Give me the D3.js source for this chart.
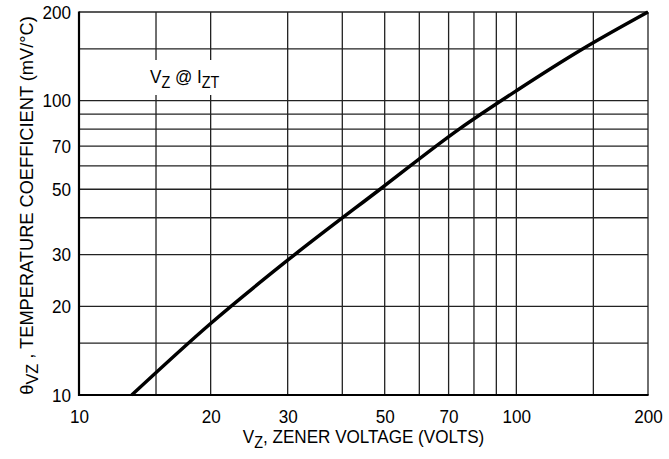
<!DOCTYPE html>
<html>
<head>
<meta charset="utf-8">
<script src="https://cdn.jsdelivr.net/npm/d3@7"></script>
<style>
  body { margin: 0; background: #fff; }
  text { font-family: "Liberation Sans", Arial, sans-serif; fill: #000; }
</style>
</head>
<body>
<svg></svg>
<script>
// zener voltage (V) vs temperature coefficient (mV/°C)
const voltage = [13.2, 20, 30, 48.8, 74, 100, 142, 200];
const coeff   = [10, 17.5, 28.7, 50, 80, 108, 150, 200];

const gridVals = [15, 20, 30, 40, 50, 60, 70, 80, 90, 100, 150, 200];
const xTicks = [10, 20, 30, 50, 70, 100, 200];
const yTicks = [10, 20, 30, 50, 70, 100, 200];

const width = 669, height = 459, margin = { top: 12, right: 21, bottom: 64, left: 79 };
const fs = 19, squeeze = 0.9; // condensed look

const svg = d3.select("svg")
  .attr("width", width)
  .attr("height", height);

const x = d3.scaleLog()
  .domain([10, 200])
  .range([margin.left, width - margin.right]);

const y = d3.scaleLog()
  .domain([10, 200])
  .range([height - margin.bottom, margin.top]);

// grid
svg.append("g")
  .selectAll("line")
  .data(gridVals)
  .enter()
  .append("line")
  .attr("x1", d => x(d)).attr("x2", d => x(d))
  .attr("y1", y(10)).attr("y2", y(200))
  .attr("stroke", "#222").attr("stroke-width", 1.3);

svg.append("g")
  .selectAll("line")
  .data(gridVals)
  .enter()
  .append("line")
  .attr("y1", d => y(d)).attr("y2", d => y(d))
  .attr("x1", x(10)).attr("x2", x(200))
  .attr("stroke", "#222").attr("stroke-width", 1.3);

// heavier left / bottom frame
svg.append("line")
  .attr("x1", x(10)).attr("x2", x(10))
  .attr("y1", y(10) + 1).attr("y2", y(200) - 0.6)
  .attr("stroke", "#000").attr("stroke-width", 2.2);
svg.append("line")
  .attr("x1", x(10) - 1).attr("x2", x(200) + 0.6)
  .attr("y1", y(10)).attr("y2", y(10))
  .attr("stroke", "#000").attr("stroke-width", 2.2);

// tick labels
svg.append("g")
  .attr("transform", `translate(0,${height - margin.bottom})`)
  .call(d3.axisBottom(x).tickValues(xTicks).tickFormat(d3.format("d")).tickSize(0).tickPadding(15))
  .call(g => g.select(".domain").remove())
  .selectAll("text")
  .attr("transform", `scale(${squeeze},1)`);

svg.append("g")
  .attr("transform", `translate(${margin.left},0)`)
  .call(d3.axisLeft(y).tickValues(yTicks).tickFormat(d3.format("d")).tickSize(0).tickPadding(9))
  .call(g => g.select(".domain").remove())
  .selectAll("text")
  .attr("transform", `scale(${squeeze},1)`);

svg.selectAll(".tick text")
  .attr("font-family", null)
  .attr("font-size", null)
  .style("font-size", fs + "px");

// curve
svg.append("path")
  .datum(voltage.map((v, i) => [v, coeff[i]]))
  .attr("fill", "none")
  .attr("stroke", "#000")
  .attr("stroke-width", 3.5)
  .attr("d", d3.line().x(d => x(d[0])).y(d => y(d[1])).curve(d3.curveMonotoneX));

// annotation, on a white patch that breaks the grid
svg.append("rect")
  .attr("x", 146).attr("y", 60)
  .attr("width", 80).attr("height", 35)
  .attr("fill", "#fff");

const ann = svg.append("g")
  .attr("transform", `translate(150,83) scale(${squeeze},1)`)
  .append("text")
  .style("font-size", fs + "px");
ann.append("tspan").text("V");
ann.append("tspan").attr("dy", 5).style("font-size", "16px").text("Z");
ann.append("tspan").attr("dy", -5).text(" @ I");
ann.append("tspan").attr("dy", 5).style("font-size", "16px").text("ZT");

// x axis title
const xt = svg.append("g")
  .attr("transform", `translate(${(margin.left + width - margin.right) / 2},443) scale(${squeeze},1)`)
  .append("text")
  .style("text-anchor", "middle")
  .style("font-size", fs + "px");
xt.append("tspan").text("V");
xt.append("tspan").attr("dy", 5).style("font-size", "16px").text("Z");
xt.append("tspan").attr("dy", -5).text(", ZENER VOLTAGE (VOLTS)");

// y axis title
const yt = svg.append("g")
  .attr("transform", `translate(33,${(margin.top + height - margin.bottom) / 2 + 2}) rotate(-90) scale(0.96,1)`)
  .append("text")
  .style("text-anchor", "middle")
  .style("font-size", fs + "px");
yt.append("tspan").text("θ");
yt.append("tspan").attr("dy", 5).style("font-size", "17px").text("VZ");
yt.append("tspan").attr("dy", -5).text(" , TEMPERATURE COEFFICIENT (mV/°C)");
</script>
</body>
</html>
